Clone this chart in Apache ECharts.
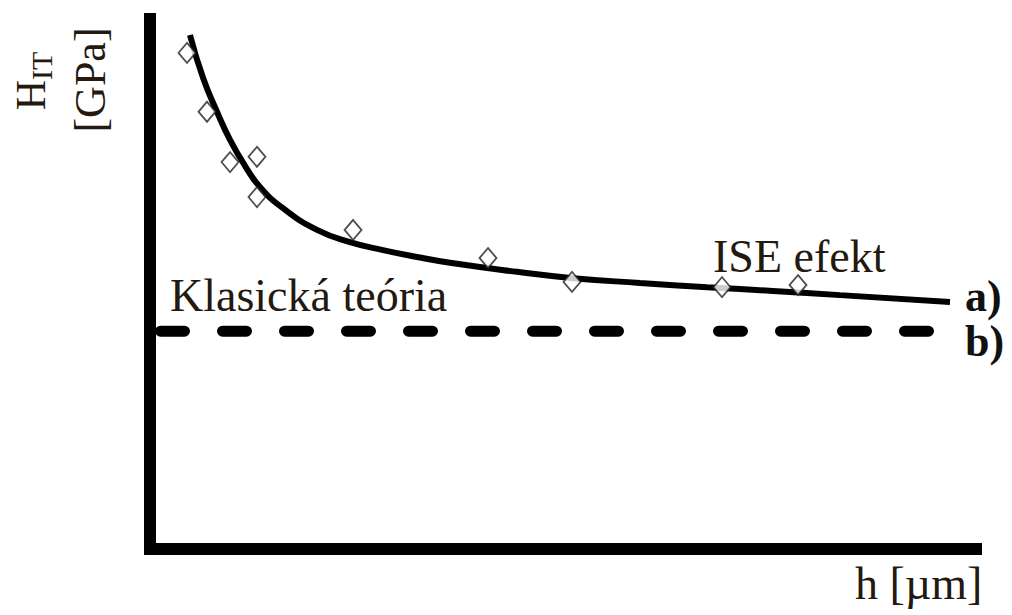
<!DOCTYPE html>
<html>
<head>
<meta charset="utf-8">
<script src="https://cdn.jsdelivr.net/npm/echarts@6/dist/echarts.min.js"></script>
<style>html,body{margin:0;padding:0;background:#fff;}#c{width:1012px;height:615px;}</style>
</head>
<body>
<div id="c"></div>
<script>
// Curve a) (ISE effect) – depth h vs hardness H_IT (arbitrary units)
const curveX = [4.84, 6.42, 8.11, 9.69, 11.50, 13.32, 16.10, 20.22, 24.21, 28.21, 32.32, 36.32, 44.43, 51.21, 59.32, 67.43, 75.42, 83.54, 96.85];
const curveY = [97.0, 88.9, 82.5, 77.2, 72.3, 68.3, 64.3, 60.2, 57.9, 56.4, 55.1, 54.0, 52.3, 51.1, 50.2, 49.4, 48.7, 47.9, 46.6];
// Measured points (diamonds)
const pointX = [4.48, 6.90, 9.69, 12.95, 12.95, 24.58, 40.92, 51.09, 69.25, 78.45];
const pointY = [93.6, 82.5, 73.0, 74.0, 66.4, 60.2, 54.9, 50.4, 49.4, 49.8];
// Line b) classical theory (constant hardness)
const classicX = [1.27, 94.6];
const classicY = [41.1, 41.1];

const serif = '"Liberation Serif", "DejaVu Serif", serif';
const txt = '#24190f';

const chart = echarts.init(document.getElementById('c'), null, {renderer: 'svg'});
chart.setOption({
  backgroundColor: '#fff',
  animation: false,
  grid: {left: 150, top: 19, right: 36, bottom: 66},
  xAxis: {
    type: 'value', min: 0, max: 100,
    axisLine: {show: true, lineStyle: {color: '#000', width: 12, cap: 'square'}},
    axisTick: {show: false}, axisLabel: {show: false}, splitLine: {show: false}
  },
  yAxis: {
    type: 'value', min: 0, max: 100,
    axisLine: {show: true, lineStyle: {color: '#000', width: 12, cap: 'square'}},
    axisTick: {show: false}, axisLabel: {show: false}, splitLine: {show: false}
  },
  series: [
    {
      type: 'line', name: 'a)',
      data: curveX.map((x, i) => [x, curveY[i]]),
      smooth: 0.5, showSymbol: false,
      lineStyle: {color: '#000', width: 6}
    },
    {
      type: 'line', name: 'b)',
      data: classicX.map((x, i) => [x, classicY[i]]),
      showSymbol: false,
      lineStyle: {color: '#000', width: 11, type: [24, 38], cap: 'round'}
    },
    {
      type: 'scatter', name: 'data',
      data: pointX.map((x, i) => [x, pointY[i]]),
      symbol: 'diamond', symbolSize: [17, 20],
      itemStyle: {color: '#fff', borderColor: '#222', borderWidth: 1.8},
      z: 3
    }
  ],
  graphic: [
    {type: 'text', x: 31, y: 81, rotation: Math.PI / 2,
      style: {text: '{h|H}{s|IT}', align: 'center', verticalAlign: 'middle', fill: txt,
        rich: {h: {fontFamily: serif, fontSize: 42, fill: txt, verticalAlign: 'bottom'},
               s: {fontFamily: serif, fontSize: 30, fill: txt, verticalAlign: 'bottom', padding: [0, 0, -4, 0]}}}},
    {type: 'text', x: 90, y: 80, rotation: Math.PI / 2,
      style: {text: '[GPa]', align: 'center', verticalAlign: 'middle', fill: txt, font: '44px ' + serif}},
    {type: 'text', x: 713, y: 233, style: {text: 'ISE efekt', align: 'left', verticalAlign: 'top', fill: txt, font: '46px ' + serif}},
    {type: 'text', x: 170, y: 272, style: {text: 'Klasická teória', align: 'left', verticalAlign: 'top', fill: txt, font: '46px ' + serif}},
    {type: 'text', x: 965, y: 274, style: {text: 'a)', align: 'left', verticalAlign: 'top', fill: '#111', font: 'bold 44px ' + serif}},
    {type: 'text', x: 965, y: 319, style: {text: 'b)', align: 'left', verticalAlign: 'top', fill: '#111', font: 'bold 44px ' + serif}},
    {type: 'text', x: 855, y: 560, style: {text: 'h [µm]', align: 'left', verticalAlign: 'top', fill: txt, font: '46px ' + serif}}
  ]
});
</script>
</body>
</html>
